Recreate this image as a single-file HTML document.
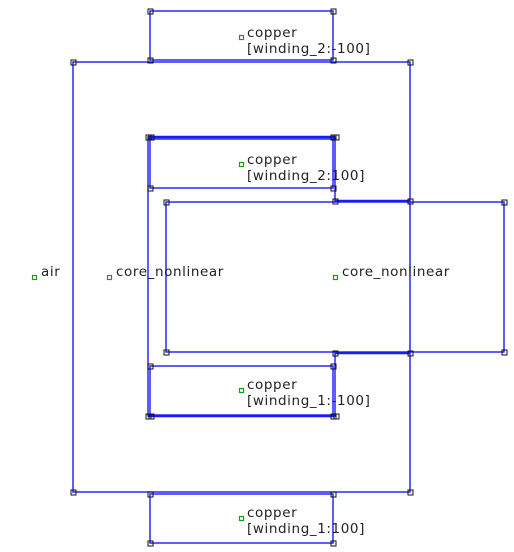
<!DOCTYPE html>
<html><head><style>
html,body{margin:0;padding:0;background:#fff;width:514px;height:552px;overflow:hidden}
svg{display:block}
text{font-family:"DejaVu Sans","Liberation Sans",sans-serif;font-size:13.5px;letter-spacing:0.6px;fill:#222}
</style></head><body>
<svg width="514" height="552" viewBox="0 0 514 552">
<g fill="none" stroke="#1a1aff" stroke-width="1.4">
<rect x="150" y="11" width="183" height="49"/>
<rect x="73" y="62" width="337" height="430"/>
<rect x="166" y="202" width="338" height="150"/>
<rect x="150" y="139" width="183" height="49"/>
<rect x="150" y="366" width="183" height="49"/>
<rect x="150" y="494" width="183" height="49"/>
<polyline points="410,201 335,201 335,137 148,137 148,416 335,416 335,353 410,353"/>
<line x1="335" y1="201" x2="410" y2="201" stroke-width="2.6"/>
<line x1="335" y1="353" x2="410" y2="353" stroke-width="2.6"/>
<line x1="148" y1="137" x2="335" y2="137" stroke-width="2.6"/>
<line x1="148" y1="416" x2="335" y2="416" stroke-width="2.6"/>
</g>
<g fill="none" stroke="#111" stroke-width="1">
<rect x="148" y="9" width="5" height="5"/><rect x="331" y="9" width="5" height="5"/>
<rect x="148" y="58" width="5" height="5"/><rect x="331" y="58" width="5" height="5"/>
<rect x="71" y="60" width="5" height="5"/><rect x="408" y="60" width="5" height="5"/>
<rect x="71" y="490" width="5" height="5"/><rect x="408" y="490" width="5" height="5"/>
<rect x="146" y="135" width="5" height="5"/><rect x="149" y="135" width="5" height="5"/>
<rect x="331" y="135" width="5" height="5"/><rect x="334" y="135" width="5" height="5"/>
<rect x="148" y="186" width="5" height="5"/><rect x="331" y="186" width="5" height="5"/>
<rect x="164" y="200" width="5" height="5"/><rect x="502" y="200" width="5" height="5"/>
<rect x="333" y="199" width="5" height="5"/><rect x="408" y="199" width="5" height="5"/>
<rect x="164" y="350" width="5" height="5"/><rect x="502" y="350" width="5" height="5"/>
<rect x="333" y="351" width="5" height="5"/><rect x="408" y="351" width="5" height="5"/>
<rect x="148" y="364" width="5" height="5"/><rect x="331" y="364" width="5" height="5"/>
<rect x="146" y="414" width="5" height="5"/><rect x="149" y="414" width="5" height="5"/>
<rect x="331" y="414" width="5" height="5"/><rect x="334" y="414" width="5" height="5"/>
<rect x="148" y="492" width="5" height="5"/><rect x="331" y="492" width="5" height="5"/>
<rect x="148" y="541" width="5" height="5"/><rect x="331" y="541" width="5" height="5"/>
</g>
<g fill="none" stroke="#1a9a1a" stroke-width="1.2">
<rect x="239.5" y="35.5" width="4" height="4"/>
<rect x="239.5" y="162.5" width="4" height="4"/>
<rect x="239.5" y="388.5" width="4" height="4"/>
<rect x="239.5" y="516.5" width="4" height="4"/>
<rect x="32.5" y="275.5" width="4" height="4"/>
<rect x="107.5" y="275.5" width="4" height="4"/>
<rect x="333.5" y="275.5" width="4" height="4"/>
</g>
<text x="247" y="37">copper</text><text x="247" y="53">[winding_2:-100]</text>
<text x="247" y="164">copper</text><text x="247" y="180">[winding_2:100]</text>
<text x="247" y="389">copper</text><text x="247" y="405">[winding_1:-100]</text>
<text x="247" y="517">copper</text><text x="247" y="533">[winding_1:100]</text>
<text x="41" y="276">air</text>
<text x="116" y="276">core_nonlinear</text>
<text x="342" y="276">core_nonlinear</text>
</svg>
</body></html>
